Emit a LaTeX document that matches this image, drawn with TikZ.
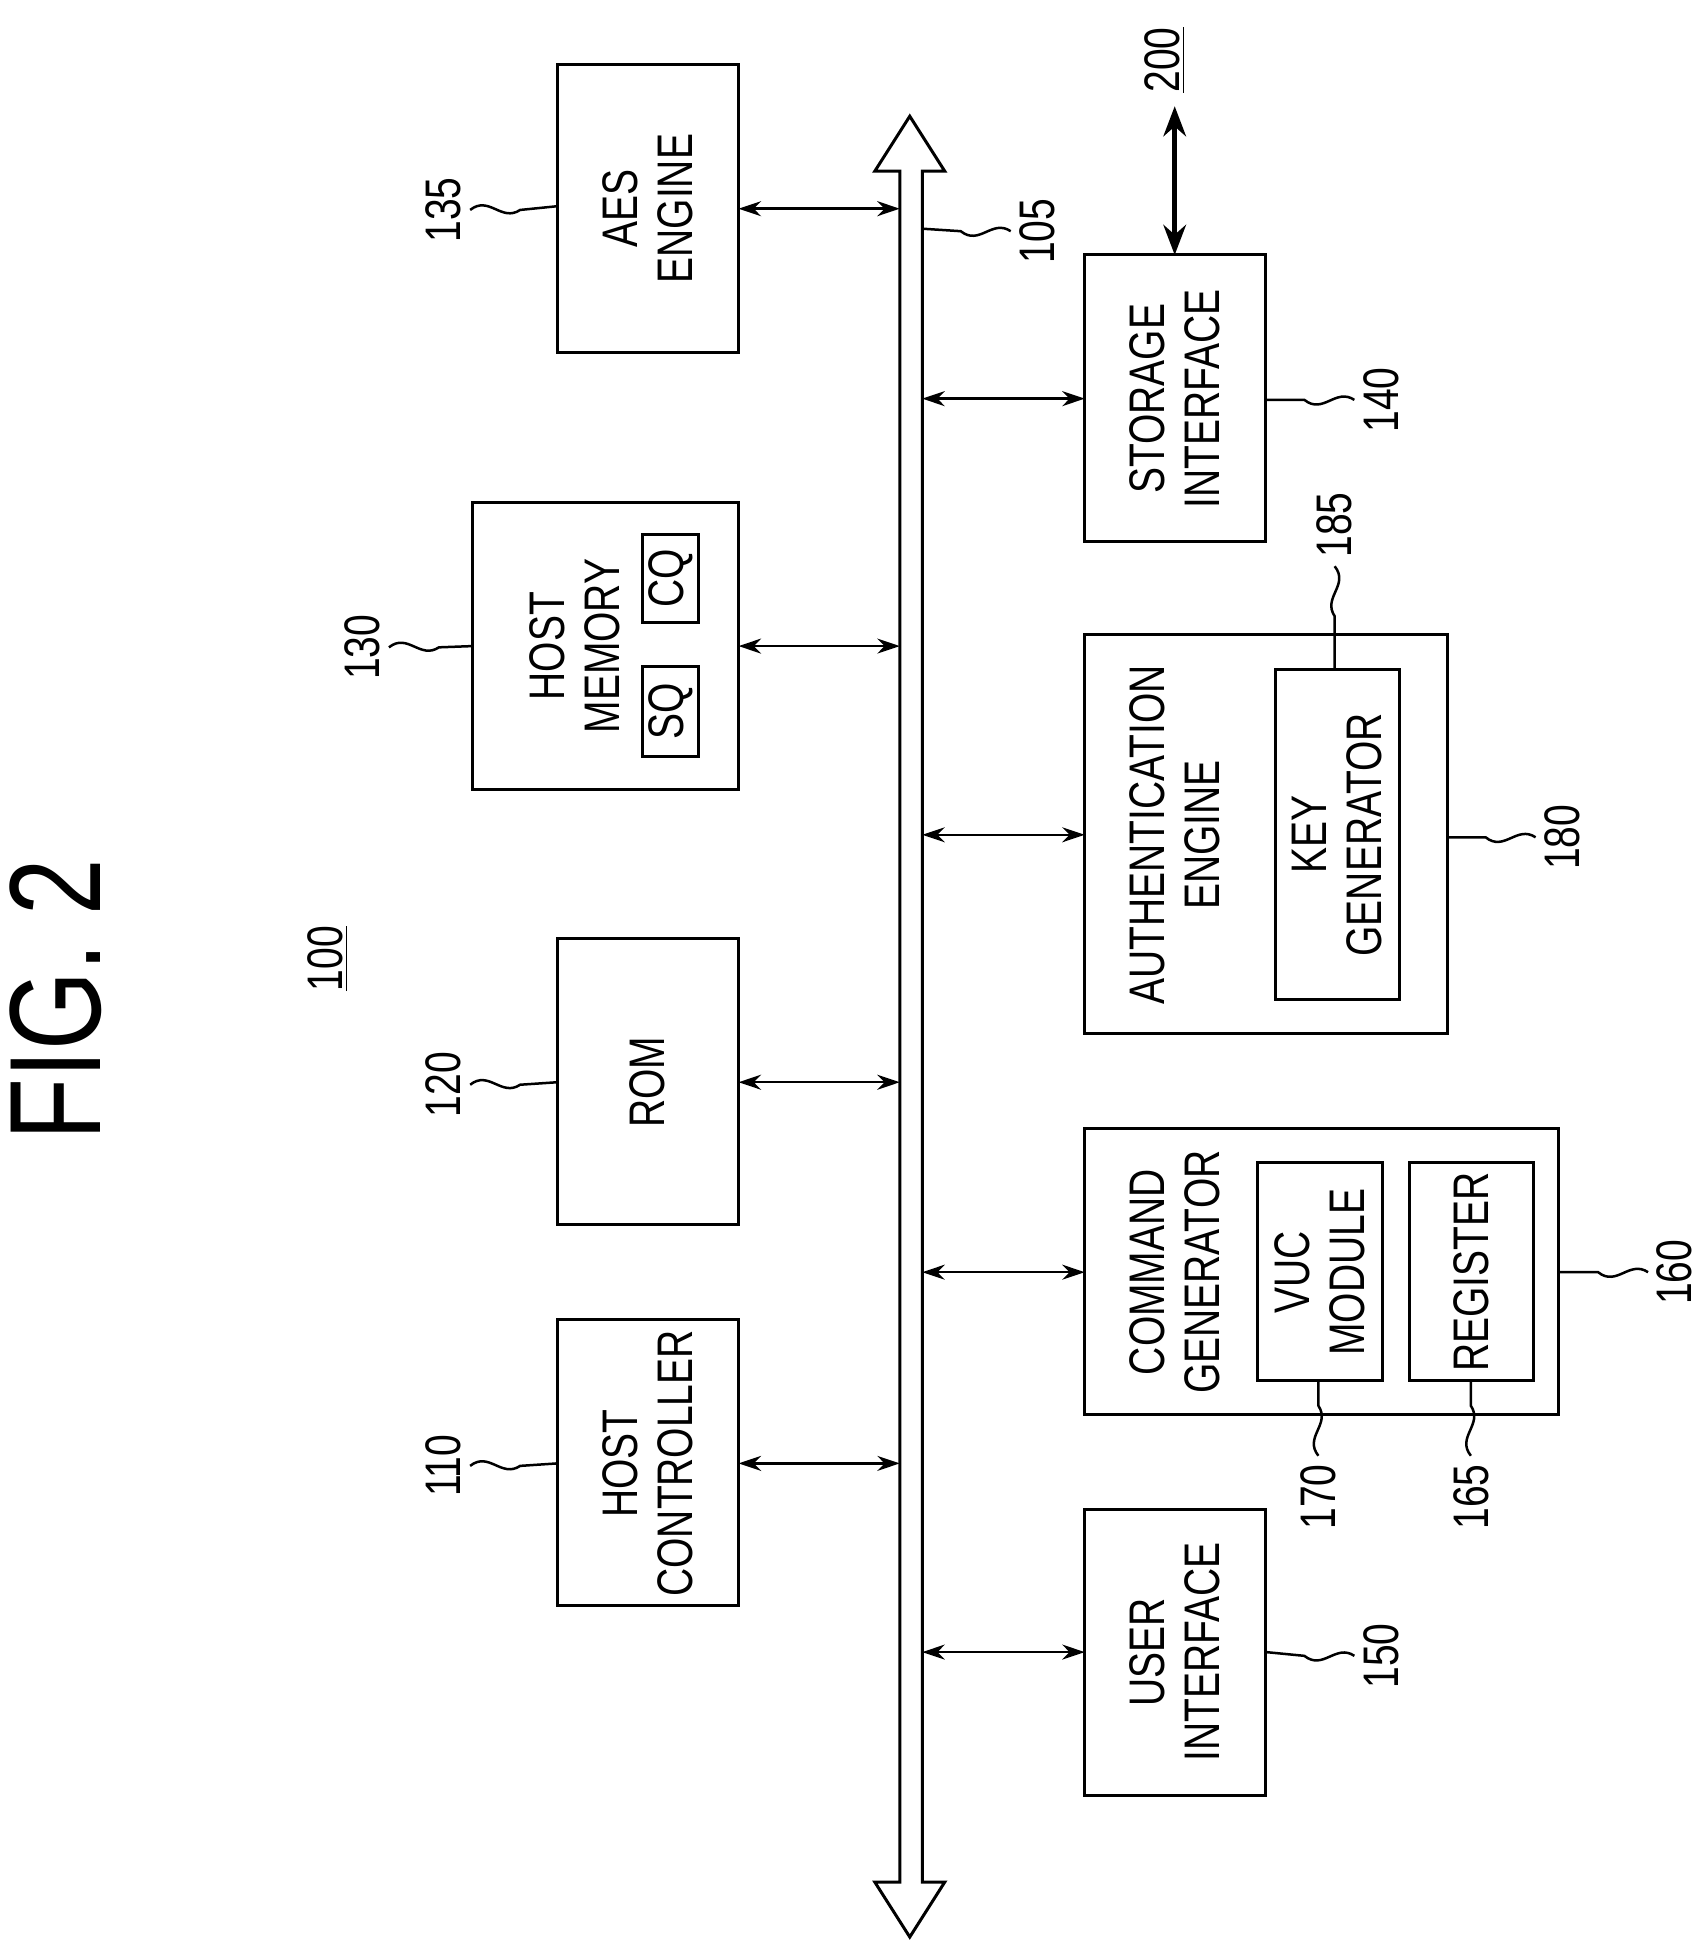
\documentclass[tikz,border=0pt]{standalone}
\usepackage{fontspec}
\setmainfont{Liberation Sans}[FakeStretch=0.78]
\usetikzlibrary{arrows.meta}
\begin{document}
\begin{tikzpicture}[x=0.5pt,y=-0.5pt,
  box/.style={draw,line width=1.2pt,minimum height=0pt,minimum width=0pt,inner sep=0pt},
  txt/.style={rotate=90,align=center,font=\fontsize{20}{22}\selectfont},
  lbl/.style={rotate=90,font=\fontsize{20}{22}\selectfont},
  con/.style={line width=1pt,{Stealth[length=9pt,width=6pt]}-{Stealth[length=9pt,width=6pt]}},
  lead/.style={line width=1pt}]
\useasboundingbox (0,0) rectangle (1362,1558);
% boxes
\newcommand\bx[5]{\draw[line width=1.2pt] (#2,#3) rectangle (#4,#5); \coordinate (#1-nw) at (#2,#3); \coordinate (#1-se) at (#4,#5);}
\bx{aes}{446}{52}{591}{282}
\bx{hm}{378}{402}{591}{632}
\bx{sq}{514}{533}{559}{605}
\bx{cq}{514}{428}{559}{498}
\bx{rom}{446}{751}{591}{980}
\bx{hc}{446}{1056}{591}{1285}
\bx{si}{868}{204}{1013}{433}
\bx{ae}{868}{508}{1158}{827}
\bx{kg}{1021}{536}{1120}{800}
\bx{cg}{868}{903}{1247}{1132}
\bx{vuc}{1006}{930}{1106}{1105}
\bx{reg}{1128}{930}{1227}{1105}
\bx{ui}{868}{1208}{1013}{1437}
% texts
\node[txt] (taes) at (518,167) {AES\\ENGINE};
\node[txt] (thm) at (460,517) {HOST\\MEMORY};
\node[txt] (tsq) at (537,569) {SQ};
\node[txt] (tcq) at (537,463) {CQ};
\node[txt] (trom) at (518,866) {ROM};
\node[txt] (thc) at (518,1171) {HOST\\CONTROLLER};
\node[txt] (tsi) at (940,319) {STORAGE\\INTERFACE};
\node[txt] (tae) at (940,668) {AUTHENTICATION\\ENGINE};
\node[txt] (tkg) at (1070,668) {KEY\\GENERATOR};
\node[txt] (tcg) at (940,1018) {COMMAND\\GENERATOR};
\node[txt] (tvuc) at (1056,1018) {VUC\\MODULE};
\node[txt] (treg) at (1177,1018) {REGISTER};
\node[txt] (tui) at (940,1322) {USER\\INTERFACE};
% bus
\draw[line width=1.2pt,fill=white] (728,93) -- (756,137) -- (738,137) -- (738,1506) -- (756,1506) -- (728,1550) -- (700,1506) -- (720,1506) -- (720,137) -- (700,137) -- cycle;
% connectors
\foreach \n/\y in {a/167,b/517,c/866,d/1171}{
  \coordinate (L\n) at (591,\y); \coordinate (B\n) at (720,\y);
  \draw[con] (L\n) -- (B\n);}
\foreach \n/\y in {e/319,f/668,g/1018,h/1322}{
  \coordinate (R\n) at (868,\y); \coordinate (C\n) at (738,\y);
  \draw[con] (C\n) -- (R\n);}
\coordinate (ext) at (940,85); \coordinate (sitop) at (940,204);
\draw[line width=2pt,{Stealth[length=12pt,width=9pt]}-{Stealth[length=12pt,width=9pt]}] (ext) -- (sitop);
\node[lbl] (n200) at (932,48) {\underline{200}};
\node[rotate=90,font=\fontsize{52}{56}\selectfont] (fig) at (45,800) {FIG. 2};
\node[lbl] (n100) at (262,767) {\underline{100}};
% reference labels with squiggle leaders
\node[lbl] (n135) at (355,168) {135};
\node[lbl] (n130) at (290,518) {130};
\node[lbl] (n120) at (355,868) {120};
\node[lbl] (n110) at (355,1173) {110};
\node[lbl] (n105) at (830,185) {105};
\node[lbl] (n140) at (1105,320) {140};
\node[lbl] (n185) at (1068,420) {185};
\node[lbl] (n180) at (1250,670) {180};
\node[lbl] (n160) at (1340,1018) {160};
\node[lbl] (n170) at (1055,1198) {170};
\node[lbl] (n165) at (1177,1198) {165};
\node[lbl] (n150) at (1105,1325) {150};
\tikzset{sq/.style={lead}}
\draw[lead] (n135.south) .. controls +(15,-12) and +(-15,10) .. ++(40,0) -- (446,165);
\draw[lead] (n130.south) .. controls +(15,-12) and +(-15,10) .. ++(40,0) -- (378,517);
\draw[lead] (n120.south) .. controls +(15,-12) and +(-15,10) .. ++(40,0) -- (446,866);
\draw[lead] (n110.south) .. controls +(15,-12) and +(-15,10) .. ++(40,0) -- (446,1171);
\draw[lead] (n105.north) .. controls +(-15,-10) and +(15,12) .. ++(-40,0) -- (738,183);
\draw[lead] (n140.north) .. controls +(-15,-10) and +(15,12) .. ++(-40,0) -- (1013,320);
\draw[lead] (n180.north) .. controls +(-15,-10) and +(15,12) .. ++(-40,0) -- (1158,670);
\draw[lead] (n160.north) .. controls +(-15,-10) and +(15,12) .. ++(-40,0) -- (1247,1018);
\draw[lead] (n150.north) .. controls +(-15,-10) and +(15,12) .. ++(-40,0) -- (1013,1322);
\draw[lead] (n185.west) .. controls +(12,15) and +(-10,-15) .. ++(0,40) -- (1068,536);
\draw[lead] (n170.east) .. controls +(-12,-15) and +(10,15) .. ++(0,-40) -- (1055,1105);
\draw[lead] (n165.east) .. controls +(-12,-15) and +(10,15) .. ++(0,-40) -- (1177,1105);
\end{tikzpicture}
\end{document}
